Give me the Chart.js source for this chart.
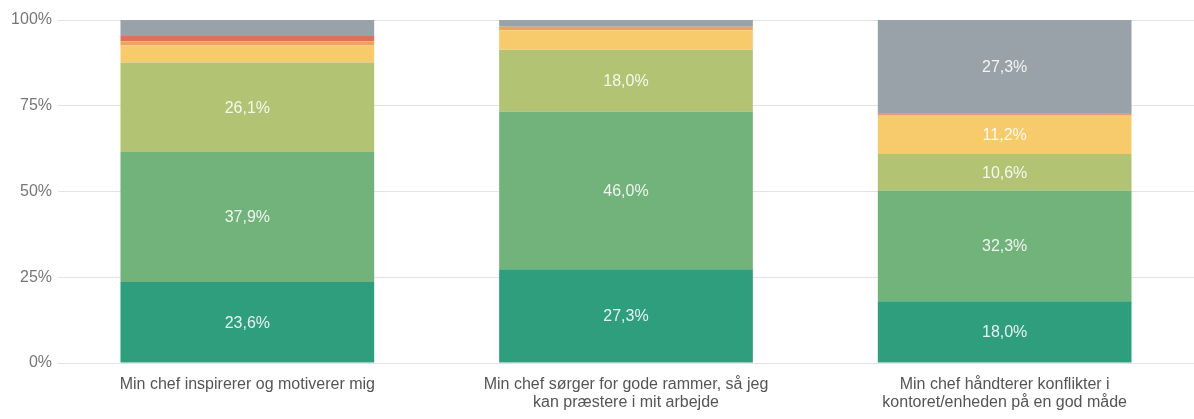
<!DOCTYPE html>
<html>
<head>
<meta charset="utf-8">
<script src="https://cdn.jsdelivr.net/npm/chart.js@4"></script>
<style>
  html, body { margin: 0; padding: 0; background: #fff; }
  #wrap { width: 1194px; height: 419px; }
</style>
</head>
<body>
<div id="wrap"><canvas id="chart"></canvas></div>
<script>
const categories = [
  ["Min chef inspirerer og motiverer mig"],
  ["Min chef sørger for gode rammer, så jeg", "kan præstere i mit arbejde"],
  ["Min chef håndterer konflikter i", "kontoret/enheden på en god måde"],
];

// answer shares in percent, bottom to top
const heltEnig = [23.6, 27.3, 18.0];
const enig = [37.9, 46.0, 32.3];
const delvisEnig = [26.1, 18.0, 10.6];
const hverken = [5.0, 5.7, 11.2];
const uenig = [1.2, 1.0, 0.3];
const heltUenig = [1.5, 0.0, 0.3];
const vedIkke = [4.7, 2.0, 27.3];

const yTicks = [0, 25, 50, 75, 100];

const seriesNames = ["Helt enig", "Enig", "Delvis enig", "Hverken eller", "Uenig", "Helt uenig", "Ved ikke"];
const seriesData = [heltEnig, enig, delvisEnig, hverken, uenig, heltUenig, vedIkke];
const seriesColors = ["#2f9e7d", "#72b37b", "#b2c374", "#f7cb6c", "#eea35c", "#e0705a", "#99a2a9"];

const FONT = "'Liberation Sans', Arial, sans-serif";

// writes the share inside segments that are tall enough
const segmentLabels = {
  id: "segmentLabels",
  afterDatasetsDraw(chart) {
    const ctx = chart.ctx;
    ctx.save();
    ctx.font = "16px " + FONT;
    ctx.fillStyle = "rgba(255,255,255,0.88)";
    ctx.textAlign = "center";
    ctx.textBaseline = "middle";
    chart.data.datasets.forEach((ds, i) => {
      const meta = chart.getDatasetMeta(i);
      meta.data.forEach((bar, j) => {
        const v = ds.data[j];
        if (v < 8) return;
        const yMid = (bar.y + bar.base) / 2;
        ctx.fillText(v.toFixed(1).replace(".", ",") + "%", bar.x, yMid + 1);
      });
    });
    ctx.restore();
  }
};

new Chart(document.getElementById("chart"), {
  type: "bar",
  data: {
    labels: categories,
    datasets: seriesNames.map((name, i) => ({
      label: name,
      data: seriesData[i],
      backgroundColor: seriesColors[i],
      borderWidth: 0,
      barPercentage: 0.67,
      categoryPercentage: 1,
    })),
  },
  options: {
    responsive: true,
    maintainAspectRatio: false,
    animation: false,
    layout: {
      padding: { top: 20, right: 0, bottom: 0, left: 0 },
    },
    scales: {
      x: {
        stacked: true,
        grid: { display: false },
        border: { display: false },
        ticks: {
          color: "#555",
          font: { family: FONT, size: 16, lineHeight: 1.12 },
          padding: 5,
          maxRotation: 0,
          autoSkip: false,
        },
        afterFit(scale) { scale.height = 56; },
      },
      y: {
        stacked: true,
        min: 0,
        max: 100,
        afterBuildTicks(scale) {
          scale.ticks = yTicks.map(v => ({ value: v }));
        },
        grid: { color: "#e2e2e2", drawTicks: false },
        border: { display: false },
        ticks: {
          color: "#777",
          font: { family: FONT, size: 16 },
          padding: 6,
          callback: v => v + "%",
        },
        afterFit(scale) { scale.width = 58; },
      },
    },
    plugins: {
      legend: { display: false },
      tooltip: { enabled: false },
    },
  },
  plugins: [segmentLabels],
});
</script>
</body>
</html>
